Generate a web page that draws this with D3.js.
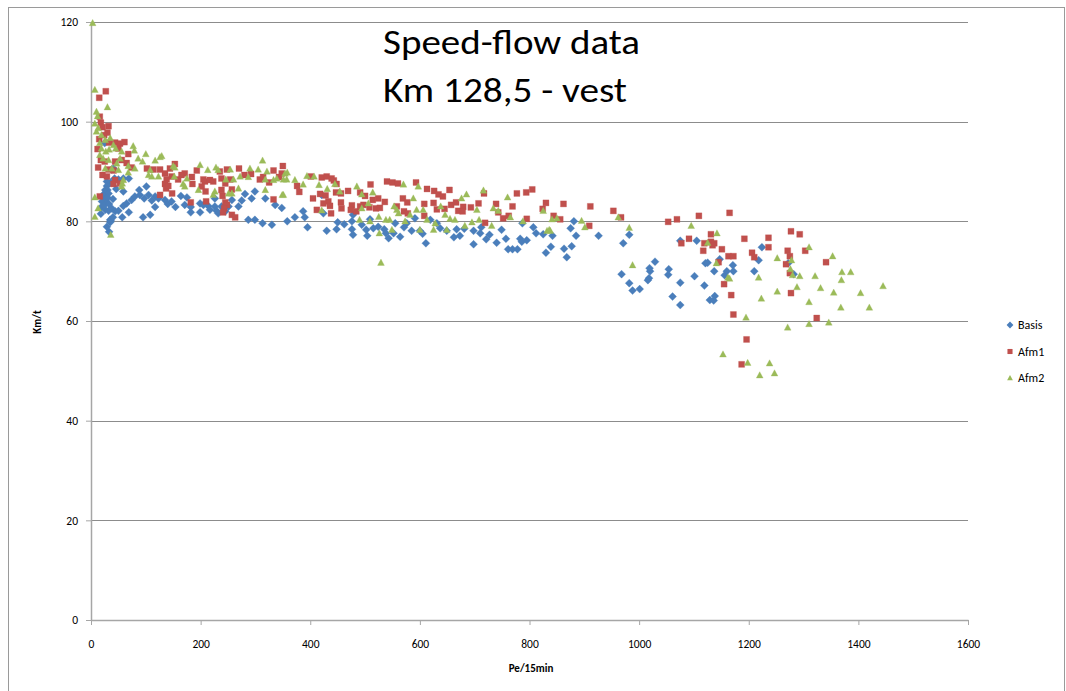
<!DOCTYPE html>
<html>
<head>
<meta charset="utf-8">
<script src="https://cdn.jsdelivr.net/npm/d3@7/dist/d3.min.js"></script>
<style>
  body { margin: 0; background: #fff; }
  svg { display: block; font-family: Carlito, Lato, "Liberation Sans", sans-serif; }
</style>
</head>
<body>
<script>
// [flow (Pe/15min), speed (Km/t)]
var basis = [[25,95.7],[38,90.4],[41,90.6],[36,87.8],[43,88.6],[50,88.4],[59,88.6],[69,88.6],[29,88.0],[29,87.1],[26,86.3],[30,86.3],[27,85.8],[32,85.6],[22,85.3],[22,85.0],[27,84.3],[19,82.9],[26,82.3],[32,82.1],[38,82.6],[44,82.0],[50,82.1],[35,80.3],[36,80.1],[35,79.8],[29,78.9],[33,77.9],[57,80.8],[69,81.8],[59,83.1],[65,83.6],[74,84.3],[80,85.0],[59,86.0],[88,86.3],[101,87.0],[89,85.3],[97,84.6],[105,85.3],[111,84.2],[117,85.0],[123,84.6],[95,80.8],[108,81.3],[117,82.9],[135,84.3],[140,83.5],[147,84.0],[154,82.9],[164,85.1],[175,84.8],[171,83.3],[182,81.8],[182,82.9],[199,83.6],[199,81.8],[205,83.3],[214,83.1],[217,82.3],[226,84.6],[226,83.0],[229,82.1],[232,81.6],[238,83.0],[245,82.0],[251,83.0],[257,84.3],[269,83.0],[275,84.2],[281,85.5],[293,84.6],[299,86.0],[287,80.3],[299,80.3],[313,79.6],[318,84.6],[330,79.3],[336,83.3],[20,84.0],[24,83.2],[30,84.8],[33,83.5],[40,84.5],[46,86.5],[18,81.5],[40,80.8],
  [348,82.7],[358,80.0],[372,80.8],[387,82.0],[390,80.8],[395,78.8],[421,85.3],[424,81.6],[430,78.1],[448,78.4],[450,79.8],[462,79.4],[476,80.0],[476,78.4],[478,77.3],[478,81.3],[494,79.3],[502,78.3],[504,77.1],[509,80.4],[515,78.6],[524,78.9],[535,78.4],[538,77.6],[543,76.6],[552,77.6],[555,79.6],[564,76.9],[571,78.8],[576,79.6],[585,78.1],[591,80.6],[600,78.1],[605,77.5],[611,75.6],[619,80.3],[631,79.6],[637,78.6],[649,78.1],[662,76.8],[667,78.4],[673,77.1],[681,78.5],[698,75.4],[698,78.1],[710,77.6],[712,78.8],[721,76.4],[727,77.3],[740,75.7],[749,78.3],[757,76.5],[761,74.4],[769,74.4],[778,74.4],[783,76.5],[786,75.9],[795,76.2],[807,78.8],[812,77.6],[825,77.4],[830,73.7],[787,79.6],
  [842,77.1],[839,74.9],[863,74.5],[868,72.8],[877,75.0],[875,78.6],[881,80.0],[885,77.1],[926,77.1],
  [982,77.3],[971,75.6],[968,69.4],[982,67.6],[988,66.1],[1001,66.4],[1019,70.6],[1020,70.0],[1018,68.6],[1016,68.2],[1029,71.9],[1054,70.4],[1053,69.3],[1061,64.9],[1075,67.7],[1075,63.2],[1075,76.1],[1105,76.1],[1101,69.0],[1119,67.1],[1121,71.6],[1125,71.7],[1137,70.0],[1138,65.0],[1129,64.2],[1136,64.1],[1147,72.4],[1156,69.2],[1160,70.0],[1171,71.2],[1172,70.0],[1210,70.0],[1218,72.2],[1224,74.8],[1272,71.6],[1282,69.4]];

var afm1 = [[27,106.1],[15,104.8],[16,101.0],[18,99.8],[21,98.9],[32,99.1],[30,97.8],[24,97.3],[15,96.5],[33,95.8],[44,95.8],[53,95.6],[61,95.9],[50,94.6],[68,93.5],[12,94.5],[18,92.3],[25,92.0],[44,92.0],[56,92.3],[65,91.7],[13,90.8],[32,90.4],[41,90.2],[74,90.8],[21,89.3],[29,89.0],[44,88.3],[53,87.6],[41,87.5],[16,85.0],[102,90.6],[114,90.4],[126,90.4],[135,89.6],[144,90.6],[153,91.5],[147,89.0],[138,88.4],[159,88.4],[171,89.6],[165,89.3],[184,88.9],[185,87.5],[135,87.5],[137,86.6],[141,87.1],[148,85.6],[126,85.3],[193,90.2],[205,88.4],[208,88.0],[202,87.0],[209,86.0],[217,88.3],[223,88.0],[235,90.0],[238,88.6],[248,90.4],[245,87.6],[238,86.3],[240,85.1],[245,83.8],[248,83.3],[243,82.6],[241,81.8],[257,81.3],[263,80.8],[210,84.0],[257,86.4],[254,88.4],[270,90.6],[280,89.3],[292,89.5],[308,88.4],[314,88.9],[325,87.8],[333,90.2],[333,84.4],[343,88.9],[182,83.8],
  [350,91.1],[348,89.6],[401,89.0],[421,88.8],[430,89.0],[439,88.6],[443,88.2],[448,87.5],[376,87.1],[380,85.9],[418,85.5],[428,85.2],[447,85.8],[456,85.6],[405,84.6],[433,84.0],[436,83.1],[456,83.8],[457,82.6],[438,81.6],[469,86.1],[491,85.8],[500,85.1],[510,87.4],[514,84.3],[524,84.6],[476,83.2],[474,82.3],[484,82.0],[491,83.0],[497,83.3],[508,82.8],[520,82.6],[527,82.7],[536,83.9],[540,88.0],[550,87.8],[560,87.6],[569,84.6],[577,83.8],[558,83.0],[593,87.8],[608,83.5],[613,86.5],[626,86.1],[634,85.4],[642,85.0],[654,86.3],[625,83.7],[631,82.4],[645,82.5],[657,83.3],[666,83.8],[670,82.1],[679,82.9],[678,82.0],[693,82.8],[707,83.6],[717,85.6],[719,79.7],[739,83.5],[743,81.8],[752,80.6],[762,81.1],[769,83.0],[777,85.6],[794,85.8],[805,86.4],[795,80.5],[824,82.5],[830,83.7],[844,81.1],[424,83.6],[412,82.3],[571,82.0],[578,81.6],[608,81.1],
  [862,83.5],[911,83.0],[856,80.4],[909,79.1],
  [953,82.1],[967,80.8],[1053,79.9],[1069,80.4],[1109,81.1],[1165,81.7],[1091,76.5],[1077,75.6],[1131,77.4],[1119,75.6],[1131,75.9],[1137,75.6],[1134,75.2],[1117,74.1],[1151,74.4],[1145,71.8],[1163,73.0],[1172,73.0],[1155,67.4],[1168,65.2],[1172,61.3],[1192,76.5],[1206,73.7],[1210,72.8],[1196,56.3],[1187,51.3],[1236,76.7],[1236,74.8],[1277,78.0],[1293,77.4],[1271,74.1],[1275,73.0],[1268,71.4],[1275,69.6],[1303,74.1],[1277,65.6],[1341,71.8],[1324,60.6]];

var afm2 = [[3,119.8],[7,106.4],[30,102.9],[10,102.0],[12,101.1],[7,99.6],[13,98.7],[10,98.0],[19,97.3],[26,96.3],[16,95.7],[35,96.7],[19,94.6],[27,94.0],[33,94.4],[16,93.3],[22,92.6],[32,92.3],[41,95.3],[45,94.6],[56,94.0],[79,94.2],[77,95.1],[100,93.5],[86,92.6],[94,92.0],[117,92.2],[126,92.9],[129,93.1],[150,91.1],[153,90.8],[53,92.6],[47,91.6],[26,90.6],[38,90.6],[50,90.3],[68,91.1],[80,90.6],[108,90.3],[105,89.3],[68,89.8],[59,88.3],[56,87.0],[123,89.0],[152,89.0],[175,88.6],[199,91.3],[213,90.3],[228,90.8],[232,90.3],[254,90.4],[246,88.4],[272,89.0],[287,88.9],[290,90.6],[305,90.4],[313,92.2],[321,90.0],[318,88.4],[333,88.3],[339,88.6],[349,85.3],[260,88.4],[171,87.0],[168,87.5],[111,89.0],[196,86.3],[226,86.0],[223,85.3],[251,85.6],[257,85.6],[318,86.3],[269,86.6],[7,84.8],[13,82.6],[7,80.9],[36,77.3],[57,87.6],
  [354,89.6],[358,89.8],[351,88.4],[357,88.4],[372,88.3],[387,87.4],[394,89.1],[407,89.0],[416,87.3],[351,85.3],[431,86.5],[445,87.5],[454,86.0],[421,82.2],[485,87.0],[494,85.4],[514,85.8],[506,83.6],[494,82.6],[490,80.3],[509,80.0],[525,80.9],[526,77.6],[538,80.3],[545,80.3],[553,83.0],[558,82.3],[561,81.6],[570,87.4],[588,84.6],[549,78.3],[573,80.0],[582,81.3],[594,82.3],[597,87.0],[600,78.3],[606,82.3],[613,80.3],[625,78.3],[628,79.6],[638,83.0],[646,81.3],[649,78.3],[655,80.5],[664,80.3],[676,84.6],[685,85.4],[682,79.1],[695,79.8],[704,82.3],[708,80.3],[716,86.2],[731,79.1],[734,82.6],[743,82.1],[760,84.8],[765,80.8],[788,80.0],[825,82.1],[832,78.1],[836,78.3],[529,71.7],
  [841,80.4],[850,80.6],[895,80.1],[901,78.8],[838,78.1],
  [962,80.8],[982,78.7],[988,71.2],[1095,79.1],[1142,77.6],[1125,75.7],[1141,71.6],[1162,68.7],[1165,68.5],[1195,60.7],[1153,53.3],[1198,51.6],[1220,49.1],[1238,51.5],[1247,49.5],[1218,68.7],[1223,64.5],[1252,72.6],[1252,65.9],[1271,58.7],[1278,72.2],[1276,70.4],[1280,69.2],[1293,69.0],[1288,66.8],[1310,74.8],[1310,63.8],[1310,59.4],[1321,69.0],[1331,66.6],[1346,59.7],[1353,73.0],[1355,65.7],[1368,62.7],[1370,69.8],[1369,68.2],[1386,69.8],[1404,65.6],[1420,62.7],[1445,67.0]];

var seriesNames = ["Basis", "Afm1", "Afm2"];
var xTicks = [0, 200, 400, 600, 800, 1000, 1200, 1400, 1600];
var yTicks = [0, 20, 40, 60, 80, 100, 120];

var w = 1066, h = 691;
var plotLeft = 91, plotRight = 968, plotTop = 22, plotBottom = 620;

var series = [
	{ name: seriesNames[0], data: basis, color: "#4a7ebb", shape: "diamond" },
	{ name: seriesNames[1], data: afm1, color: "#c0504d", shape: "square" },
	{ name: seriesNames[2], data: afm2, color: "#9bbb59", shape: "triangle" }
];

var svg = d3.select("body").append("svg")
	.attr("width", w)
	.attr("height", h);

// outer chart border (runs off the bottom of the picture)
svg.append("rect")
	.attr("x", 8.5).attr("y", 7.5)
	.attr("width", 1056).attr("height", 700)
	.attr("fill", "#fff")
	.attr("stroke", "#9a9a9a");

var x = d3.scaleLinear().domain([0, 1600]).range([plotLeft, plotRight]);
var y = d3.scaleLinear().domain([0, 120]).range([plotBottom, plotTop]);

// gridlines
svg.append("g").selectAll("line")
	.data(yTicks.slice(1))
	.enter().append("line")
	.attr("x1", plotLeft).attr("x2", plotRight)
	.attr("y1", function (d) { return Math.round(y(d)) + 0.5; })
	.attr("y2", function (d) { return Math.round(y(d)) + 0.5; })
	.attr("stroke", "#8c8c8c");

// axes
var xAxis = svg.append("g")
	.attr("transform", "translate(0," + plotBottom + ")")
	.call(d3.axisBottom(x).tickValues(xTicks).tickFormat(d3.format("d")).tickSize(5).tickPadding(15).tickSizeOuter(0));

var yAxis = svg.append("g")
	.attr("transform", "translate(" + plotLeft + ",0)")
	.call(d3.axisLeft(y).tickValues(yTicks).tickSize(5).tickPadding(8).tickSizeOuter(0));

[xAxis, yAxis].forEach(function (a) {
	a.select(".domain").attr("stroke", "#a6a6a6").attr("stroke-width", 1.5);
	a.selectAll(".tick line").attr("stroke", "#a6a6a6");
	a.selectAll(".tick text").attr("fill", "#000").style("font-size", "11.5px")
		.style("font-family", "Carlito, Lato, sans-serif");
});

function symbolPath(shape) {
	if (shape == "diamond") return "M0,-4L4,0L0,4L-4,0Z";
	if (shape == "square") return "M-3,-3H3V3H-3Z";
	return "M0,-3.6L3.4,2.7H-3.4Z";
}

// points, drawn series by series so Afm2 ends up on top
series.forEach(function (s) {
	svg.append("g").selectAll("path")
		.data(s.data)
		.enter().append("path")
		.attr("d", symbolPath(s.shape))
		.attr("transform", function (d) { return "translate(" + x(d[0]) + "," + y(d[1]) + ")"; })
		.attr("fill", s.color)
		.attr("stroke", s.color)
		.attr("stroke-opacity", 0.3)
		.attr("stroke-width", 1);
});

// axis titles
svg.append("text")
	.attr("transform", "translate(41,322) rotate(-90)")
	.attr("text-anchor", "middle")
	.style("font-size", "11px").style("font-weight", "bold")
	.text("Km/t");

svg.append("text")
	.attr("x", 531).attr("y", 672)
	.attr("text-anchor", "middle")
	.style("font-size", "11px").style("font-weight", "bold")
	.text("Pe/15min");

// title
svg.append("text")
	.attr("x", 383).attr("y", 54)
	.style("font-size", "34px")
	.attr("textLength", 257).attr("lengthAdjust", "spacingAndGlyphs")
	.text("Speed-flow data");

svg.append("text")
	.attr("x", 383).attr("y", 102)
	.style("font-size", "34px")
	.attr("textLength", 244).attr("lengthAdjust", "spacingAndGlyphs")
	.text("Km 128,5 - vest");

// legend
var legend = svg.selectAll(".legend")
	.data(series)
	.enter().append("g")
	.attr("class", "legend")
	.attr("transform", function (d, i) { return "translate(1010," + (325 + i * 26.5) + ")"; });

legend.append("path")
	.attr("d", function (d) { return symbolPath(d.shape); })
	.attr("transform", "scale(0.85)")
	.attr("fill", function (d) { return d.color; });

legend.append("text")
	.attr("x", 8).attr("dy", "0.35em")
	.style("font-size", "12px")
	.text(function (d) { return d.name; });
</script>
</body>
</html>
